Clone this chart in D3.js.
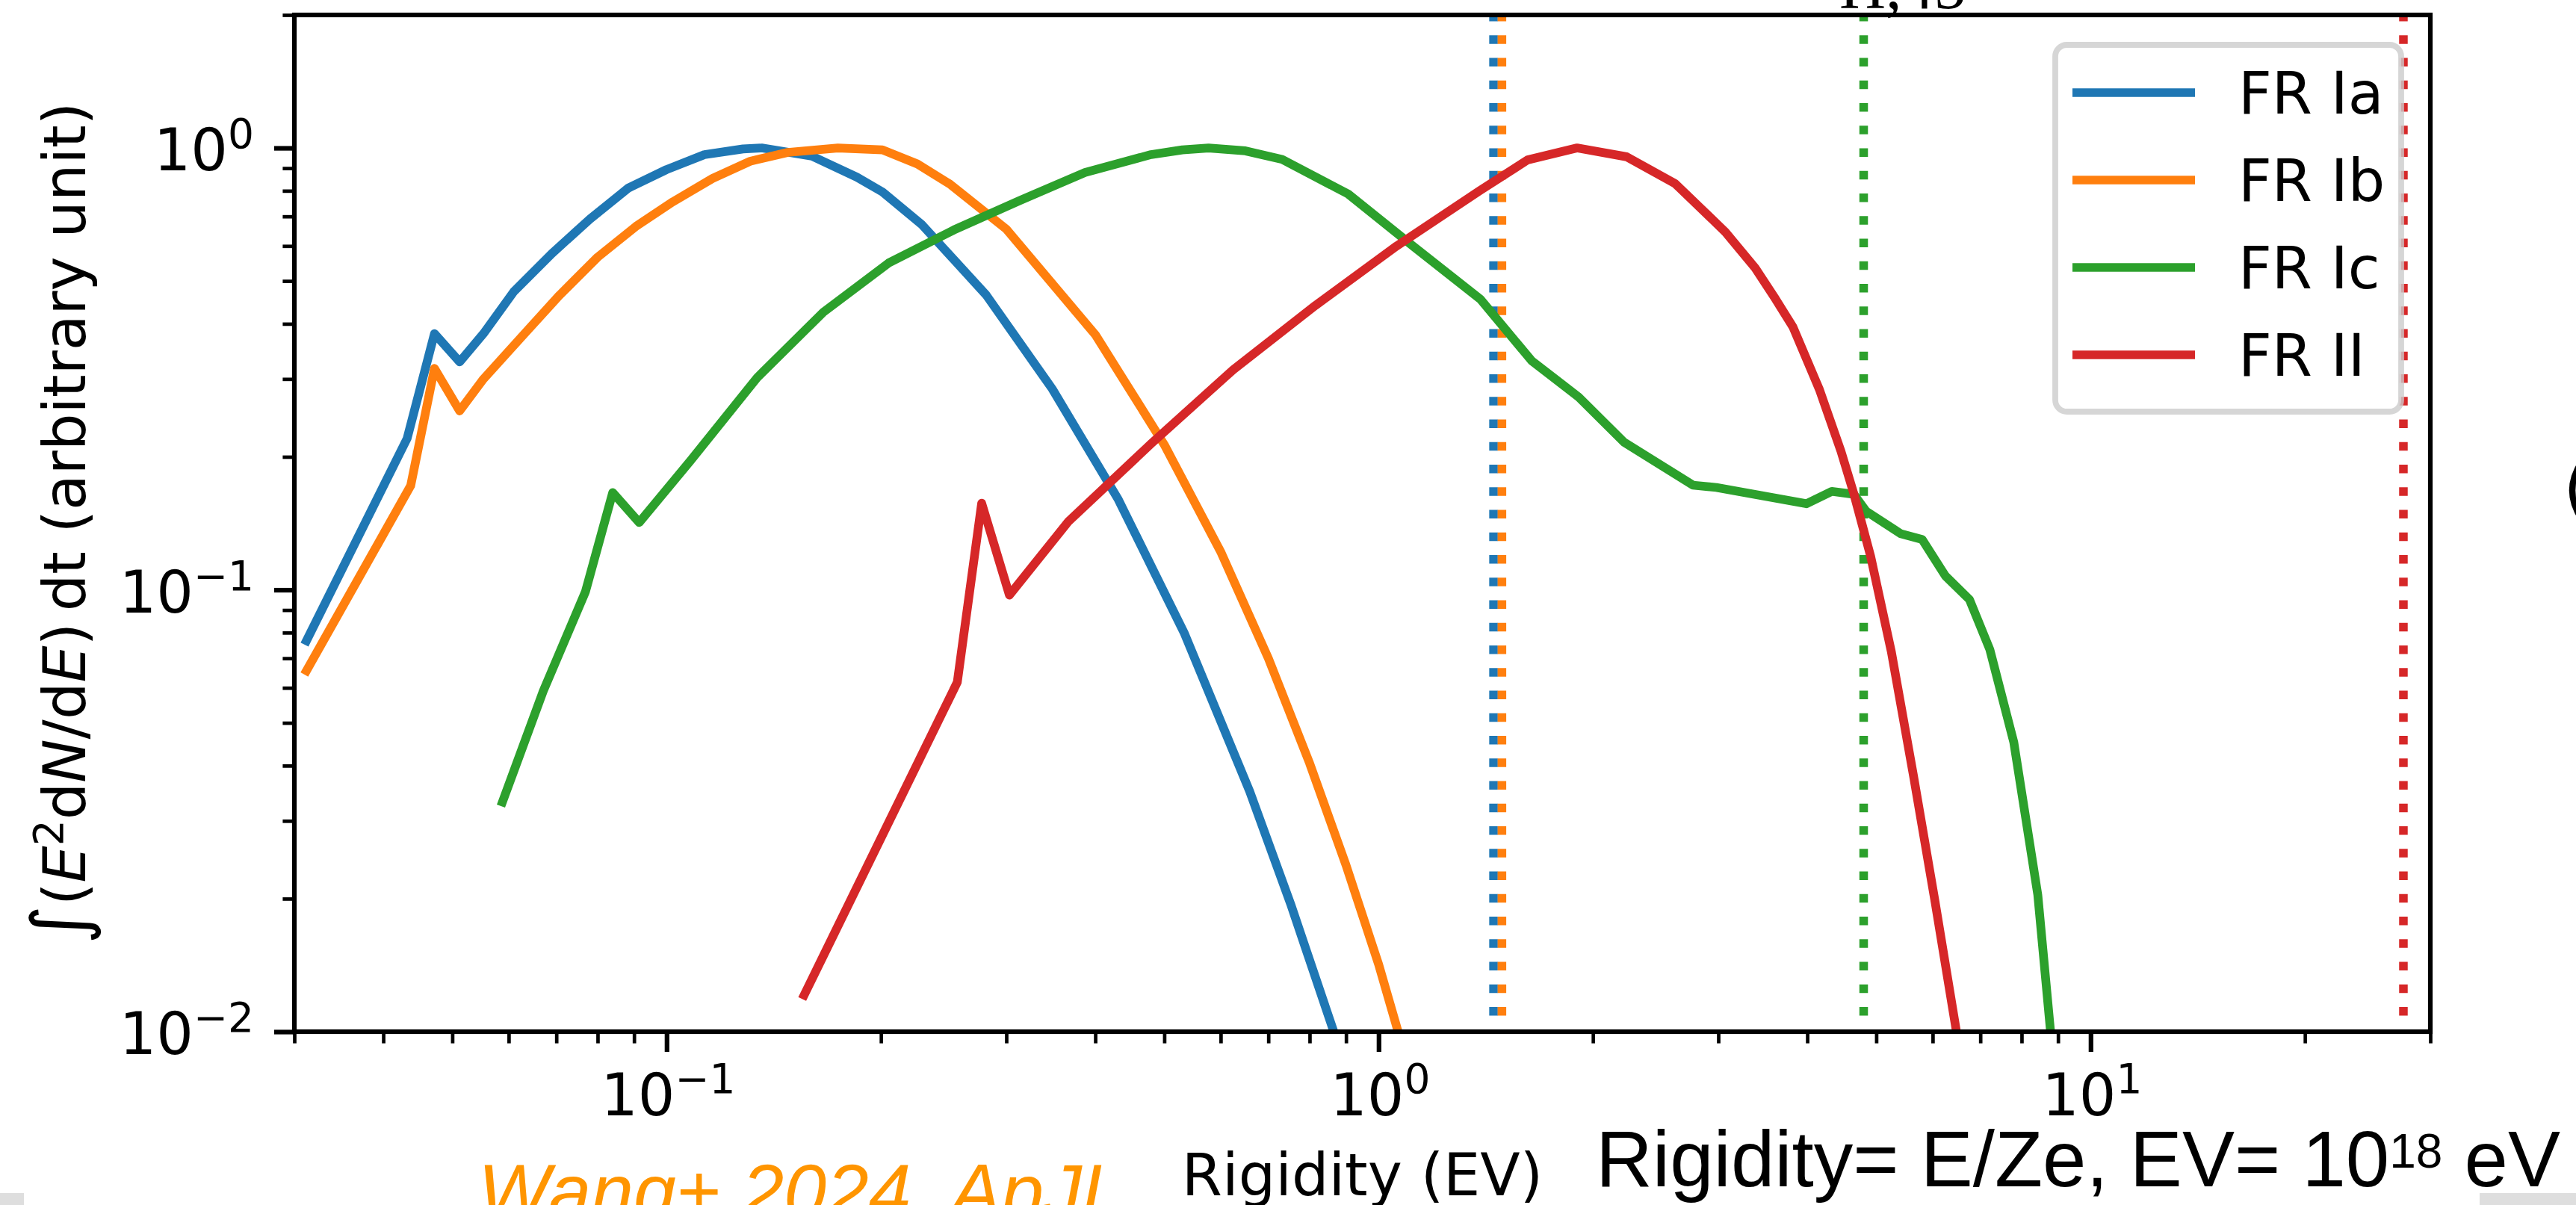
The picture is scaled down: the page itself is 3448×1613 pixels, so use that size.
<!DOCTYPE html>
<html>
<head>
<meta charset="utf-8">
<script src="https://cdn.jsdelivr.net/npm/d3@7"></script>
<style>
  html, body { margin: 0; padding: 0; background: #ffffff; overflow: hidden; }
  svg { display: block; }
</style>
</head>
<body>
<svg id="chart" width="3448" height="1613"></svg>
<script>
// Time-integrated E^2 dN/dE (normalised to peak) against rigidity for four jet models.
const seriesNames  = ["FR Ia", "FR Ib", "FR Ic", "FR II"];
const seriesColors = ["#1f77b4", "#ff7f0e", "#2ca02c", "#d62728"];

const frIaRigidity = [0.0312, 0.0432, 0.0472, 0.0512, 0.0553, 0.061, 0.069, 0.078, 0.0883, 0.0999, 0.113, 0.128, 0.136, 0.160, 0.185, 0.201, 0.228, 0.281, 0.348, 0.431, 0.533, 0.659, 0.752, 0.865];
const frIaValue    = [0.0767, 0.220, 0.380, 0.328, 0.380, 0.473, 0.577, 0.690, 0.811, 0.893, 0.966, 0.995, 1.0, 0.958, 0.859, 0.795, 0.672, 0.465, 0.285, 0.160, 0.080, 0.0350, 0.0195, 0.0100];

const frIbRigidity = [0.0312, 0.0437, 0.0472, 0.0512, 0.0553, 0.0625, 0.0707, 0.080, 0.0905, 0.102, 0.116, 0.131, 0.148, 0.174, 0.201, 0.225, 0.25, 0.3, 0.4, 0.5, 0.6, 0.7, 0.8, 0.9, 1.0, 1.065];
const frIbValue    = [0.0656, 0.172, 0.317, 0.254, 0.300, 0.373, 0.464, 0.566, 0.664, 0.755, 0.853, 0.933, 0.977, 1.0, 0.99, 0.92, 0.828, 0.655, 0.378, 0.213, 0.122, 0.070, 0.0405, 0.0238, 0.0142, 0.0100];

const frIcRigidity = [0.0588, 0.0671, 0.0769, 0.084, 0.0915, 0.108, 0.134, 0.166, 0.205, 0.253, 0.313, 0.387, 0.479, 0.53, 0.577, 0.65, 0.732, 0.906, 1.12, 1.389, 1.64, 1.91, 2.21, 2.765, 2.98, 3.99, 4.33, 4.65, 4.84, 5.41, 5.80, 6.25, 6.76, 7.22, 7.80, 8.43, 8.79];
const frIcValue    = [0.0331, 0.059, 0.099, 0.166, 0.142, 0.196, 0.302, 0.425, 0.549, 0.652, 0.760, 0.880, 0.966, 0.99, 1.0, 0.985, 0.942, 0.787, 0.598, 0.455, 0.330, 0.273, 0.216, 0.1725, 0.1705, 0.1566, 0.167, 0.1645, 0.1506, 0.134, 0.130, 0.1076, 0.095, 0.0732, 0.0452, 0.0204, 0.0099];

const frIIRigidity = [0.156, 0.256, 0.277, 0.303, 0.367, 0.479, 0.625, 0.815, 1.06, 1.386, 1.62, 1.9, 2.23, 2.61, 3.07, 3.38, 3.61, 3.82, 4.16, 4.46, 4.65, 4.91, 5.25, 5.64, 6.04, 6.48];
const frIIValue    = [0.0121, 0.0618, 0.157, 0.0973, 0.143, 0.214, 0.315, 0.44, 0.60, 0.80, 0.94, 1.0, 0.955, 0.83, 0.645, 0.535, 0.455, 0.393, 0.284, 0.206, 0.165, 0.119, 0.0724, 0.0379, 0.0199, 0.0100];

// maximum rigidity of each model (dotted verticals)
const cutoffRigidity = [1.45, 1.49, 4.8, 27.5];

const xMajorTicks = [0.1, 1, 10];
const xMajorExps  = ["\u22121", "0", "1"];
const xMinorTicks = [0.03, 0.04, 0.05, 0.06, 0.07, 0.08, 0.09, 0.2, 0.3, 0.4, 0.5, 0.6, 0.7, 0.8, 0.9, 2, 3, 4, 5, 6, 7, 8, 9, 20, 30];
const yMajorTicks = [0.01, 0.1, 1];
const yMajorExps  = ["\u22122", "\u22121", "0"];
const yMinorTicks = [0.02, 0.03, 0.04, 0.05, 0.06, 0.07, 0.08, 0.09, 0.2, 0.3, 0.4, 0.5, 0.6, 0.7, 0.8, 0.9, 2];

const series = [
  { name: seriesNames[0], color: seriesColors[0], xs: frIaRigidity, ys: frIaValue },
  { name: seriesNames[1], color: seriesColors[1], xs: frIbRigidity, ys: frIbValue },
  { name: seriesNames[2], color: seriesColors[2], xs: frIcRigidity, ys: frIcValue },
  { name: seriesNames[3], color: seriesColors[3], xs: frIIRigidity, ys: frIIValue }
];

const W = 3448, H = 1613;
const plot = { left: 394, right: 3253, top: 20, bottom: 1381 };
const FONT = "'DejaVu Sans', sans-serif";
const SLIDE_FONT = "'Liberation Sans', Arial, sans-serif";
const fs = 78;            // base text size
const lw = 11.7;          // data line width

const svg = d3.select("#chart");
svg.append("rect").attr("width", W).attr("height", H).attr("fill", "#ffffff");

const x = d3.scaleLog().domain([0.03, 30]).range([plot.left, plot.right]);
const y = d3.scaleLog().domain([0.01, 2]).range([plot.bottom, plot.top]);

svg.append("defs").append("clipPath").attr("id", "plotClip")
  .append("rect")
  .attr("x", plot.left).attr("y", plot.top)
  .attr("width", plot.right - plot.left).attr("height", plot.bottom - plot.top);

const dataLayer = svg.append("g").attr("clip-path", "url(#plotClip)");
const line = d3.line().x(d => x(d[0])).y(d => y(d[1]));

// each model: its curve, then its maximum-rigidity marker
series.forEach((s, i) => {
  dataLayer.append("path")
    .datum(s.xs.map((v, k) => [v, s.ys[k]]))
    .attr("d", line)
    .attr("fill", "none")
    .attr("stroke", s.color)
    .attr("stroke-width", lw)
    .attr("stroke-linejoin", "round")
    .attr("stroke-linecap", "square");
  dataLayer.append("line")
    .attr("x1", x(cutoffRigidity[i])).attr("x2", x(cutoffRigidity[i]))
    .attr("y1", y.range()[1] - 3).attr("y2", y.range()[0])
    .attr("stroke", s.color)
    .attr("stroke-width", 11.5)
    .attr("stroke-dasharray", "11.5 18.75");
});

// axes: ticks drawn with d3 axes, labels as 10^n
const majorLen = 27, minorLen = 15.6;
function styleAxis(g, width) {
  g.select(".domain").remove();
  g.selectAll(".tick line").attr("stroke", "#000").attr("stroke-width", width);
  g.selectAll(".tick text").remove();
}
svg.append("g").attr("transform", `translate(0,${plot.bottom})`)
  .call(d3.axisBottom(x).tickValues(xMinorTicks).tickSize(minorLen).tickFormat(""))
  .call(g => styleAxis(g, 4.7));
svg.append("g").attr("transform", `translate(0,${plot.bottom})`)
  .call(d3.axisBottom(x).tickValues(xMajorTicks).tickSize(majorLen).tickFormat(""))
  .call(g => styleAxis(g, 6.2));
svg.append("g").attr("transform", `translate(${plot.left},0)`)
  .call(d3.axisLeft(y).tickValues(yMinorTicks).tickSize(minorLen).tickFormat(""))
  .call(g => styleAxis(g, 4.7));
svg.append("g").attr("transform", `translate(${plot.left},0)`)
  .call(d3.axisLeft(y).tickValues(yMajorTicks).tickSize(majorLen).tickFormat(""))
  .call(g => styleAxis(g, 6.2));

function powerLabel(sel, exp) {
  sel.append("tspan").text("10");
  sel.append("tspan").attr("dy", -30).style("font-size", "55px").text(exp);
}
xMajorTicks.forEach((v, i) => {
  const t = svg.append("text")
    .attr("x", x(v) + 2).attr("y", plot.bottom + 112)
    .attr("text-anchor", "middle")
    .style("font-family", FONT).style("font-size", fs + "px").attr("fill", "#000");
  powerLabel(t, xMajorExps[i]);
});
yMajorTicks.forEach((v, i) => {
  const t = svg.append("text")
    .attr("x", plot.left - majorLen - 27).attr("y", y(v) + 30)
    .attr("text-anchor", "end")
    .style("font-family", FONT).style("font-size", fs + "px").attr("fill", "#000");
  powerLabel(t, yMajorExps[i]);
});

// frame
svg.append("rect")
  .attr("x", plot.left).attr("y", plot.top)
  .attr("width", plot.right - plot.left).attr("height", plot.bottom - plot.top)
  .attr("fill", "none").attr("stroke", "#000").attr("stroke-width", 6.2);

// axis titles
svg.append("text")
  .attr("x", (plot.left + plot.right) / 2).attr("y", 1600)
  .attr("text-anchor", "middle")
  .style("font-family", FONT).style("font-size", fs + "px")
  .text("Rigidity (EV)");

const yl = svg.append("text")
  .attr("transform", `translate(114,${(plot.top + plot.bottom) / 2}) rotate(-90)`)
  .attr("text-anchor", "middle")
  .style("font-family", FONT).style("font-size", fs + "px");
yl.append("tspan").style("font-size", "100px").text("\u222B");
yl.append("tspan").text("(");
yl.append("tspan").style("font-style", "italic").text("E");
yl.append("tspan").attr("dy", -30).style("font-size", "55px").text("2");
yl.append("tspan").attr("dy", 30).text("d");
yl.append("tspan").style("font-style", "italic").text("N");
yl.append("tspan").text("/d");
yl.append("tspan").style("font-style", "italic").text("E");
yl.append("tspan").text(")\u2009dt (arbitrary unit)");

// legend
const leg = svg.append("g");
leg.append("rect")
  .attr("x", 2751).attr("y", 60).attr("width", 463).attr("height", 491)
  .attr("rx", 15.6).attr("ry", 15.6)
  .attr("fill", "rgba(255,255,255,0.8)")
  .attr("stroke", "rgba(204,204,204,0.8)").attr("stroke-width", 7.8);
series.forEach((s, i) => {
  const ly = 124 + i * 117;
  leg.append("line")
    .attr("x1", 2774).attr("x2", 2938).attr("y1", ly).attr("y2", ly)
    .attr("stroke", s.color).attr("stroke-width", lw);
  leg.append("text")
    .attr("x", 2996).attr("y", ly + 28)
    .style("font-family", FONT).style("font-size", fs + "px")
    .text(s.name);
});

// surrounding slide text
svg.append("text")
  .attr("x", 640).attr("y", 1630)
  .style("font-family", SLIDE_FONT)
  .style("font-style", "italic").style("font-size", "102px")
  .attr("fill", "#ff9500")
  .text("Wang+ 2024, ApJL");

const rig = svg.append("text")
  .attr("x", 2136).attr("y", 1588)
  .style("font-family", SLIDE_FONT)
  .style("font-size", "105px").attr("fill", "#000");
rig.append("tspan").text("Rigidity= E/Ze, EV= 10");
rig.append("tspan").attr("dy", -25).style("font-size", "64px").text("18");
rig.append("tspan").attr("dy", 25).text(" eV");

svg.append("text")
  .attr("x", 2462).attr("y", 11)
  .style("font-family", "'Liberation Serif', serif")
  .style("font-size", "86px").attr("fill", "#000")
  .text("\u03A0,45");

svg.append("text")
  .attr("x", 3431).attr("y", 685)
  .style("font-family", FONT)
  .style("font-size", "90px").attr("fill", "#000")
  .text("(");

svg.append("rect").attr("x", 0).attr("y", 1597).attr("width", 32).attr("height", 16).attr("fill", "#dedede");
svg.append("rect").attr("x", 3319).attr("y", 1597).attr("width", 129).attr("height", 16).attr("fill", "#dedede");
</script>
</body>
</html>
